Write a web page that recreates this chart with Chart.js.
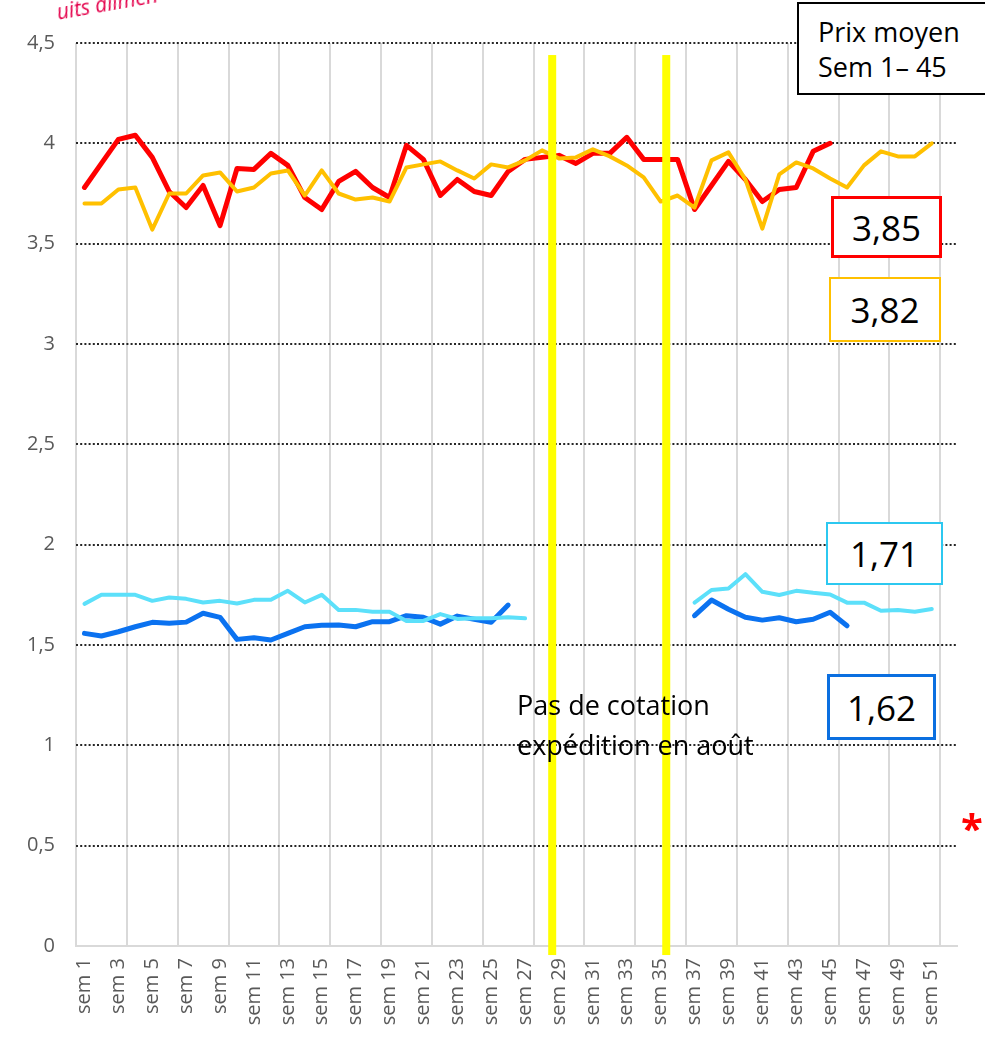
<!DOCTYPE html>
<html lang="fr">
<head>
<meta charset="utf-8">
<title>Prix moyen sem 1 - 45</title>
<script src="https://cdn.jsdelivr.net/npm/chart.js@4/dist/chart.umd.min.js"></script>
<style>
  html, body { margin: 0; padding: 0; background: #fff; overflow: hidden; }
  #wrap { position: relative; width: 985px; height: 1038px; font-family: "Open Sans", sans-serif; }
  #growth { position: absolute; left: 0; top: 0; }
  .box { position: absolute; box-sizing: border-box; background: #fff; color: #000;
         display: flex; align-items: center; justify-content: center; font-size: 35px; }
  .note { position: absolute; color: #000; font-size: 27px; line-height: 40px; white-space: nowrap; }
</style>
</head>
<body>
<div id="wrap">
  <canvas id="growth" width="985" height="1038"></canvas>
  <div class="note" style="left:56px;top:-17px;color:#e4004b;font-style:italic;font-size:21px;transform:rotate(-10deg);">uits alimen</div>
  <div class="box" style="left:797px;top:2px;width:200px;height:93px;border:2px solid #000;justify-content:flex-start;padding-left:19px;font-size:27px;line-height:35px;">Prix moyen<br>Sem 1– 45</div>
  <div class="box" style="left:831px;top:196px;width:111px;height:62px;border:3.5px solid #ff0000;">3,85</div>
  <div class="box" style="left:829px;top:277px;width:112px;height:65px;border:2px solid #ffc000;">3,82</div>
  <div class="box" style="left:826px;top:522px;width:117px;height:63px;border:2px solid #2cc8f0;">1,71</div>
  <div class="box" style="left:827px;top:674px;width:109px;height:66px;border:3.5px solid #0b6fe0;">1,62</div>
  <div class="note" style="left:517px;top:685px;">Pas de cotation<br>expédition en août</div>
  <div class="note" style="left:961px;top:808px;color:#ff0000;font-size:40px;font-weight:bold;">*</div>
</div>
<script>
// weeks on the x axis
var weeks = [
  "sem 1","sem 2","sem 3","sem 4","sem 5","sem 6","sem 7","sem 8","sem 9","sem 10",
  "sem 11","sem 12","sem 13","sem 14","sem 15","sem 16","sem 17","sem 18","sem 19","sem 20",
  "sem 21","sem 22","sem 23","sem 24","sem 25","sem 26","sem 27","sem 28","sem 29","sem 30",
  "sem 31","sem 32","sem 33","sem 34","sem 35","sem 36","sem 37","sem 38","sem 39","sem 40",
  "sem 41","sem 42","sem 43","sem 44","sem 45","sem 46","sem 47","sem 48","sem 49","sem 50",
  "sem 51","sem 52"
];

// red series (sem 1-45)
var redPrices = [
  3.78, 3.90, 4.02, 4.04, 3.93, 3.76, 3.68, 3.79, 3.59, 3.875,
  3.87, 3.95, 3.89, 3.73, 3.67, 3.81, 3.86, 3.78, 3.73, 3.99,
  3.92, 3.74, 3.82, 3.76, 3.74, 3.86, 3.92, 3.93, 3.94, 3.90,
  3.95, 3.95, 4.03, 3.92, 3.92, 3.92, 3.67, 3.79, 3.91, 3.82,
  3.71, 3.77, 3.78, 3.96, 4.00, null, null, null, null, null,
  null, null
];

// yellow series (sem 1-51)
var yellowPrices = [
  3.70, 3.70, 3.77, 3.78, 3.57, 3.75, 3.75, 3.84, 3.855, 3.76,
  3.78, 3.85, 3.865, 3.74, 3.865, 3.75, 3.72, 3.73, 3.71, 3.88,
  3.895, 3.91, 3.865, 3.825, 3.895, 3.88, 3.915, 3.965, 3.925, 3.93,
  3.97, 3.935, 3.89, 3.83, 3.71, 3.74, 3.68, 3.915, 3.955, 3.82,
  3.575, 3.845, 3.905, 3.875, 3.825, 3.78, 3.89, 3.96, 3.935, 3.935,
  4.00, null
];

// light blue series, no quote sem 28-36
var cyanPrices = [
  1.705, 1.75, 1.75, 1.75, 1.72, 1.737, 1.73, 1.712, 1.72, 1.707,
  1.725, 1.725, 1.77, 1.712, 1.75, 1.675, 1.675, 1.666, 1.666, 1.62,
  1.62, 1.654, 1.63, 1.633, 1.633, 1.638, 1.633, null, null, null,
  null, null, null, null, null, null, 1.711, 1.774, 1.782, 1.853,
  1.765, 1.749, 1.77, 1.76, 1.752, 1.711, 1.711, 1.671, 1.674, 1.666,
  1.679, null
];

// dark blue series, no quote sem 27-36
var bluePrices = [
  1.558, 1.545, 1.566, 1.591, 1.613, 1.608, 1.614, 1.658, 1.638, 1.528,
  1.536, 1.525, 1.558, 1.591, 1.598, 1.60, 1.591, 1.616, 1.616, 1.646,
  1.638, 1.604, 1.644, 1.628, 1.613, 1.699, null, null, null, null,
  null, null, null, null, null, null, 1.646, 1.724, 1.678, 1.638,
  1.624, 1.636, 1.616, 1.628, 1.663, 1.596, null, null, null, null,
  null, null
];

// yellow markers for the August gap (week position) and their vertical span
var gapMarkWeeks = [28.6, 35.33];
var gapMarkSpan = [-0.045, 4.44];

var yTicks = [0, 0.5, 1, 1.5, 2, 2.5, 3, 3.5, 4, 4.5];

(function () {
  var gapMarks = {
    id: "gapMarks",
    afterDatasetsDraw: function (chart) {
      var ctx = chart.ctx, xs = chart.scales.x, ys = chart.scales.y;
      var top = ys.getPixelForValue(gapMarkSpan[1]);
      var bottom = ys.getPixelForValue(gapMarkSpan[0]);
      ctx.save();
      ctx.fillStyle = "#ffff00";
      gapMarkWeeks.forEach(function (w) {
        var x = xs.getPixelForValue(w - 1);
        ctx.fillRect(x - 4, top, 8, bottom - top);
      });
      ctx.restore();
    }
  };

  function line(label, data, color, width, order) {
    return {
      label: label,
      data: data,
      borderColor: color,
      backgroundColor: color,
      borderWidth: width,
      pointRadius: 0,
      tension: 0,
      spanGaps: false,
      borderJoinStyle: "round",
      borderCapStyle: "round",
      order: order
    };
  }

  new Chart(document.getElementById("growth").getContext("2d"), {
    type: "line",
    data: {
      labels: weeks,
      datasets: [
        line("Série rouge", redPrices, "#ff0000", 5, 4),
        line("Série jaune", yellowPrices, "#ffc000", 4, 3),
        line("Série bleue", bluePrices, "#0b72f0", 5, 2),
        line("Série cyan", cyanPrices, "#5ce0fa", 4, 1)
      ]
    },
    plugins: [gapMarks],
    options: {
      responsive: false,
      animation: false,
      layout: { padding: { top: 43, right: 27, left: 0, bottom: 0 } },
      plugins: { legend: { display: false }, tooltip: { enabled: false }, title: { display: false } },
      scales: {
        x: {
          type: "category",
          offset: true,
          afterFit: function (s) { s.height = 92; },
          grid: {
            offset: true,
            drawTicks: false,
            lineWidth: 2,
            color: function (c) { return c.index % 3 === 0 ? "#d9d9d9" : "rgba(0,0,0,0)"; }
          },
          border: { display: true, color: "#d9d9d9", width: 2 },
          ticks: {
            autoSkip: false,
            minRotation: 90,
            maxRotation: 90,
            padding: 12,
            color: "#595959",
            font: { family: "Open Sans", size: 20 },
            callback: function (v, i) { return i % 2 === 0 ? this.getLabelForValue(v) : ""; }
          }
        },
        y: {
          min: 0,
          max: 4.5,
          afterFit: function (s) { s.width = 76; },
          afterBuildTicks: function (s) { s.ticks = yTicks.map(function (v) { return { value: v }; }); },
          grid: {
            drawTicks: false,
            lineWidth: 2,
            color: function (c) { return c.tick && c.tick.value === 0 ? "rgba(0,0,0,0)" : "#262626"; }
          },
          border: { display: false, dash: [2, 2.2] },
          ticks: {
            padding: 21,
            color: "#595959",
            font: { family: "Open Sans", size: 20 },
            callback: function (v) { return String(v).replace(".", ","); }
          }
        }
      }
    }
  });
})();
</script>
</body>
</html>
